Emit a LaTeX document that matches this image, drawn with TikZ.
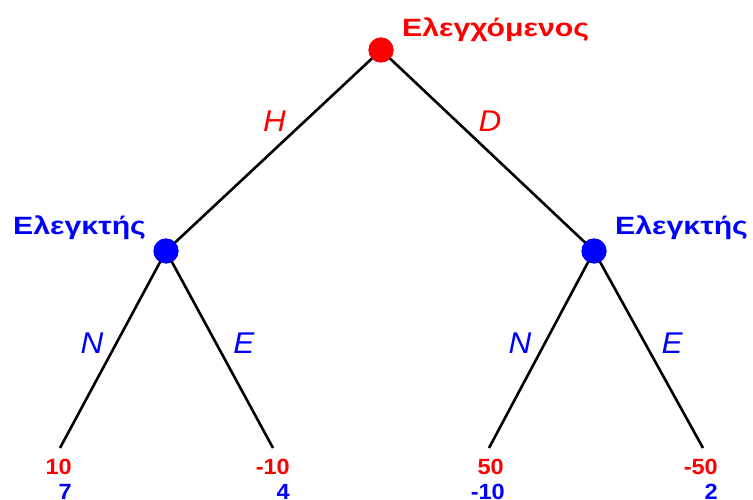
\documentclass[tikz,border=0pt]{standalone}
\usepackage{fontspec}
\setmainfont{Liberation Sans}
\newcommand{\wid}[2]{\scalebox{#1}[1]{#2}}
\newcommand{\payfont}{\bfseries\fontsize{22}{25}\selectfont}
\begin{document}
\begin{tikzpicture}[x=1pt,y=-1pt,
  rednode/.style={circle,fill=red,inner sep=0pt,minimum size=25pt},
  bluenode/.style={circle,fill=blue,inner sep=0pt,minimum size=25pt},
  edge/.style={line width=2.6pt},
  title/.style={font=\bfseries\fontsize{25}{25}\selectfont,inner sep=0pt,anchor=base west},
  elab/.style={font=\itshape\fontsize{30}{30}\selectfont,inner sep=0pt},
  pay/.style={inner sep=0pt,anchor=base east}]
\useasboundingbox (0,0) rectangle (753,500);
\node[rednode] (r) at (381,50) {};
\node[bluenode] (a) at (166,251) {};
\node[bluenode] (b) at (594,251) {};
\coordinate (l1) at (60,448);
\coordinate (l2) at (273,448);
\coordinate (l3) at (489,448);
\coordinate (l4) at (703,448);
\draw[edge] (r.center) -- (a.center);
\draw[edge] (r.center) -- (b.center);
\draw[edge] (a.center) -- (l1);
\draw[edge] (a.center) -- (l2);
\draw[edge] (b.center) -- (l3);
\draw[edge] (b.center) -- (l4);
\node[rednode] at (r) {};
\node[bluenode] at (a) {};
\node[bluenode] at (b) {};
\node[title,red] (tr) at (402,37) {\wid{1.21}{Ελεγχόμενος}};
\node[title,blue] (ta) at (13,235) {\wid{1.21}{Ελεγκτής}};
\node[title,blue] (tb) at (615,235) {\wid{1.21}{Ελεγκτής}};
\node[elab,red] (eh) at (274.5,121) {\wid{1.05}{H}};
\node[elab,red] (ed) at (490,121) {\wid{1.05}{D}};
\node[elab,blue] (en1) at (92,343) {\wid{1.05}{N}};
\node[elab,blue] (ee1) at (244,343) {\wid{1.05}{E}};
\node[elab,blue] (en2) at (520,343) {\wid{1.05}{N}};
\node[elab,blue] (ee2) at (672,343) {\wid{1.05}{E}};
\node[pay,red] (p1) at (72,474) {\payfont\wid{1.07}{10}};
\node[pay,blue] (q1) at (72,499) {\payfont\wid{1.07}{7}};
\node[pay,red] (p2) at (290,474) {\payfont\wid{1.07}{-10}};
\node[pay,blue] (q2) at (290,499) {\payfont\wid{1.07}{4}};
\node[pay,red] (p3) at (504,474) {\payfont\wid{1.07}{50}};
\node[pay,blue] (q3) at (505,499) {\payfont\wid{1.07}{-10}};
\node[pay,red] (p4) at (718,474) {\payfont\wid{1.07}{-50}};
\node[pay,blue] (q4) at (718,499) {\payfont\wid{1.07}{2}};
\end{tikzpicture}
\end{document}
